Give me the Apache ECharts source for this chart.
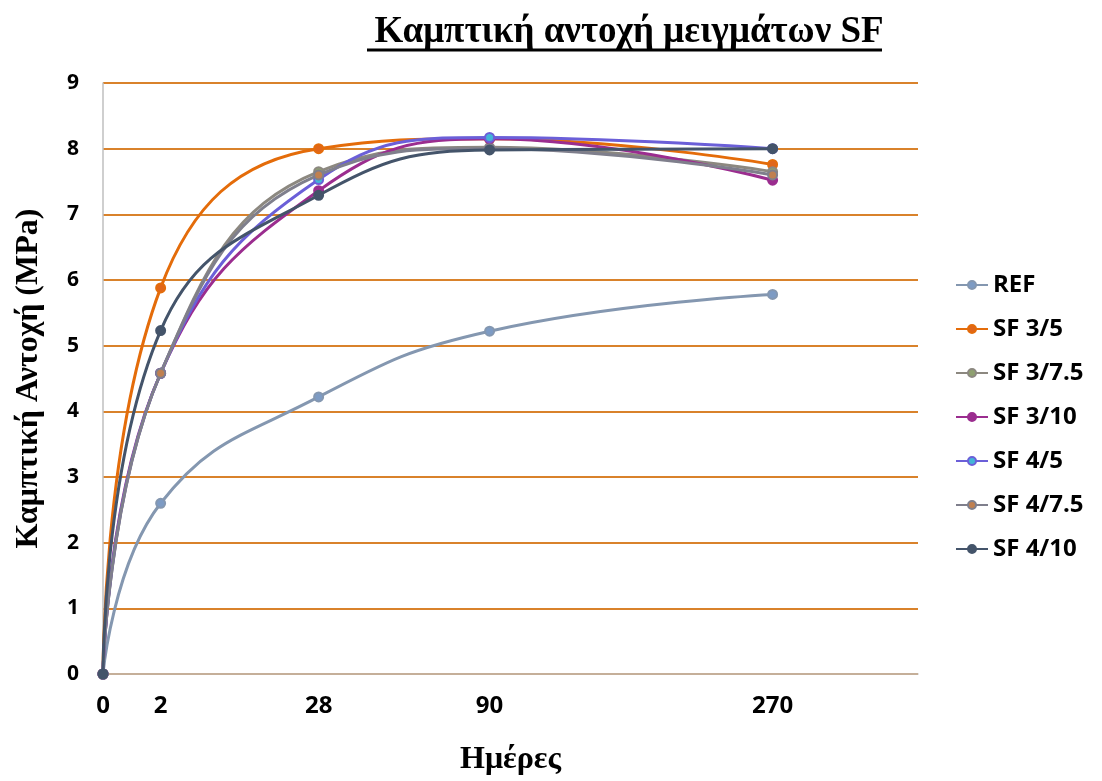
<!DOCTYPE html>
<html>
<head>
<meta charset="utf-8">
<script src="https://cdn.jsdelivr.net/npm/echarts@6/dist/echarts.min.js"></script>
<style>html,body{margin:0;padding:0;background:#fff}#c{width:1102px;height:781px}</style>
</head>
<body>
<div id="c"></div>
<script>
const days = [0, 2, 28, 90, 270];
const dayLabels = ['0', '2', '28', '90', '270'];
const seriesNames = ['REF', 'SF 3/5', 'SF 3/7.5', 'SF 3/10', 'SF 4/5', 'SF 4/7.5', 'SF 4/10'];
const REF    = [0, 2.60, 4.22, 5.22, 5.78];
const SF3_5  = [0, 5.88, 8.00, 8.15, 7.76];
const SF3_75 = [0, 4.58, 7.65, 8.02, 7.65];
const SF3_10 = [0, 4.58, 7.36, 8.15, 7.52];
const SF4_5  = [0, 4.58, 7.53, 8.17, 8.00];
const SF4_75 = [0, 4.58, 7.60, 8.00, 7.60];
const SF4_10 = [0, 5.23, 7.29, 7.98, 8.00];
const allValues = [REF, SF3_5, SF3_75, SF3_10, SF4_5, SF4_75, SF4_10];
const yTicks = [0, 1, 2, 3, 4, 5, 6, 7, 8, 9];

const lineColors = ['#8497b0', '#e46c0a', '#8c8880', '#9b2d8f', '#6b5fd8', '#7f7f8c', '#44546a'];
const markerColors = ['#7d9bc4', '#e0661a', '#8fa070', '#9b2d8f', '#43b5d8', '#c08050', '#44546a'];

// x positioned on a square-root scale of days
const xPos = days.map(d => Math.sqrt(d));

const series = seriesNames.map((name, i) => ({
  name: name,
  type: 'line',
  smooth: 0.45,
  data: days.map((d, j) => [xPos[j], allValues[i][j]]),
  symbol: 'circle',
  symbolSize: 9,
  lineStyle: { color: lineColors[i], width: 3 },
  itemStyle: { color: markerColors[i], borderColor: lineColors[i], borderWidth: 2 },
  z: 2 + i
}));

const chart = echarts.init(document.getElementById('c'));
chart.setOption({
  animation: false,
  backgroundColor: '#ffffff',
  title: {
    text: 'Καμπτική αντοχή μειγμάτων SF',
    left: 624, top: 9, textAlign: 'center',
    textStyle: { fontFamily: 'Liberation Serif', fontWeight: 'bold', fontSize: 37, color: '#000' }
  },
  graphic: [{
    type: 'line', shape: { x1: 367, y1: 50, x2: 882, y2: 50 },
    style: { stroke: '#000', lineWidth: 3 }
  }],
  legend: {
    orient: 'vertical', left: 950, top: 268, itemGap: 20,
    itemWidth: 32, itemHeight: 10,
    textStyle: { fontFamily: 'Open Sans', fontWeight: 'bold', fontSize: 24, color: '#000' },
    data: seriesNames
  },
  grid: { left: 103, right: 184, top: 83, bottom: 101, containLabel: false },
  xAxis: {
    type: 'value', min: 0, max: 20,
    name: 'Ημέρες', nameLocation: 'middle', nameGap: 70,
    nameTextStyle: { fontFamily: 'Liberation Serif', fontWeight: 'bold', fontSize: 32, color: '#000' },
    axisLine: { show: true, lineStyle: { color: '#bfbfbf', width: 1.5 } },
    axisTick: { show: false },
    splitLine: { show: false },
    axisLabel: {
      customValues: xPos,
      formatter: v => { const k = xPos.findIndex(p => Math.abs(p - v) < 1e-6); return k >= 0 ? dayLabels[k] : ''; },
      margin: 20,
      fontFamily: 'Open Sans', fontWeight: 'bold', fontSize: 24, color: '#000'
    }
  },
  yAxis: {
    type: 'value', min: yTicks[0], max: yTicks[yTicks.length - 1], interval: 1,
    name: 'Καμπτική Αντοχή (MPa)', nameLocation: 'middle', nameGap: 58, nameRotate: 90,
    nameTextStyle: { fontFamily: 'Liberation Serif', fontWeight: 'bold', fontSize: 32, color: '#000' },
    axisLine: { show: true, lineStyle: { color: '#bfbfbf', width: 1.5 } },
    axisTick: { show: false },
    splitLine: { show: true, lineStyle: { color: '#d9822b', width: 2 } },
    axisLabel: { margin: 24, fontFamily: 'Open Sans', fontWeight: 'bold', fontSize: 21, color: '#000' }
  },
  series: series
});
</script>
</body>
</html>
